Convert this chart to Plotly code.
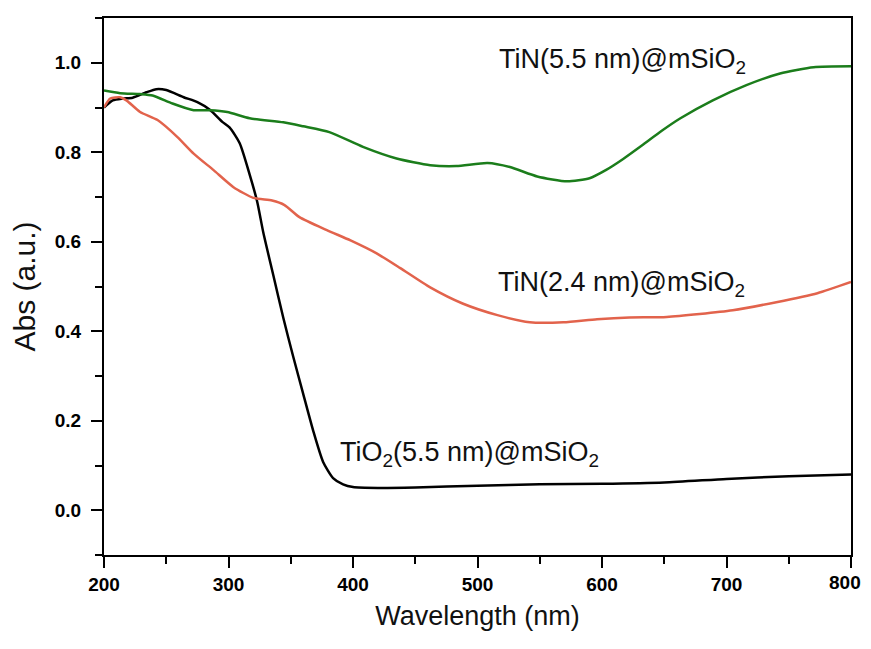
import plotly.graph_objects as go

# TiO2(5.5 nm)@mSiO2 (black)
tio2_x = [200, 207, 215, 223, 234, 242, 250, 264, 275, 285, 295, 301, 309, 317, 323, 328,
          336, 344, 352, 360, 368, 376, 384, 392, 400, 420, 450, 500, 550, 600, 650, 700, 750, 800]
tio2_y = [0.90, 0.916, 0.92, 0.922, 0.934, 0.941, 0.939, 0.923, 0.912, 0.895, 0.868, 0.855, 0.82,
          0.75, 0.69, 0.62, 0.525, 0.43, 0.343, 0.26, 0.178, 0.108, 0.072, 0.058, 0.052, 0.05,
          0.051, 0.055, 0.058, 0.059, 0.062, 0.07, 0.076, 0.08]

# TiN(5.5 nm)@mSiO2 (green)
tin55_x = [200, 213, 229, 239, 255, 272, 285, 299, 317, 344, 360, 381, 408, 435, 462, 483, 508,
           526, 548, 572, 590, 603, 617, 632, 648, 663, 689, 716, 743, 770, 800]
tin55_y = [0.938, 0.932, 0.93, 0.927, 0.909, 0.894, 0.894, 0.89, 0.876, 0.867, 0.858, 0.845, 0.812,
           0.786, 0.771, 0.769, 0.776, 0.767, 0.746, 0.735, 0.742, 0.76, 0.785, 0.815, 0.848, 0.876,
           0.916, 0.95, 0.976, 0.99, 0.992]

# TiN(2.4 nm)@mSiO2 (red)
tin24_x = [200, 205, 213, 218, 229, 243, 259, 272, 288, 304, 320, 335, 345, 357, 379, 398, 419, 438,
           462, 488, 516, 542, 569, 596, 622, 652, 705, 740, 773, 800]
tin24_y = [0.90, 0.92, 0.923, 0.916, 0.89, 0.872, 0.834, 0.797, 0.76, 0.722, 0.698, 0.692, 0.682,
           0.655, 0.626, 0.603, 0.574, 0.541, 0.498, 0.462, 0.436, 0.42, 0.42, 0.427, 0.431, 0.432,
           0.447, 0.465, 0.485, 0.51]

# x tick labels; the last one sits at the figure edge and is drawn as an annotation
x_tick_vals = [200, 300, 400, 500, 600, 700, 800]
x_tick_text = ["200", "300", "400", "500", "600", "700", "800"]

labels = ["TiO<sub>2</sub>(5.5 nm)@mSiO<sub>2</sub>",
          "TiN(5.5 nm)@mSiO<sub>2</sub>",
          "TiN(2.4 nm)@mSiO<sub>2</sub>"]
label_x = [388, 516, 515]
label_y = [0.125, 1.004, 0.505]

tick_font = dict(family="Arial, Liberation Sans", size=19, color="black", weight="bold")

fig = go.Figure()
fig.add_trace(go.Scatter(x=tio2_x, y=tio2_y, mode="lines", line=dict(color="#000000", width=2.5, shape="spline", smoothing=0.6)))
fig.add_trace(go.Scatter(x=tin55_x, y=tin55_y, mode="lines", line=dict(color="#1b7d1b", width=2.5, shape="spline", smoothing=0.6)))
fig.add_trace(go.Scatter(x=tin24_x, y=tin24_y, mode="lines", line=dict(color="#e2634c", width=2.5, shape="spline", smoothing=0.6)))

for t, x, y in zip(labels, label_x, label_y):
    fig.add_annotation(x=x, y=y, xref="x", yref="y", text=t, showarrow=False,
                       xanchor="left", yanchor="middle",
                       font=dict(family="Arial, Liberation Sans", size=27, color="#111111"))

# last x tick label, kept fully inside the figure
fig.add_annotation(x=x_tick_vals[-1], y=0, xref="x", yref="paper", text=x_tick_text[-1],
                   showarrow=False, xanchor="right", yanchor="top", xshift=12, yshift=-15,
                   font=tick_font)

axis_common = dict(showline=True, linecolor="black", linewidth=2, mirror=True,
                   ticks="outside", ticklen=11, tickwidth=2, tickcolor="black",
                   showgrid=False, zeroline=False, automargin=False, tickfont=tick_font)

fig.update_xaxes(range=[200, 800], tickvals=x_tick_vals,
                 ticktext=x_tick_text[:-1] + [""],
                 minor=dict(dtick=50, ticklen=7, tickwidth=2, tickcolor="black", ticks="outside"),
                 title=dict(text="Wavelength (nm)", standoff=12,
                            font=dict(family="Arial, Liberation Sans", size=27, color="#111111")),
                 **axis_common)
fig.update_yaxes(range=[-0.1, 1.1], dtick=0.2, tick0=0, tickformat=".1f", ticklabelstandoff=6,
                 minor=dict(dtick=0.1, ticklen=7, tickwidth=2, tickcolor="black", ticks="outside"),
                 title=dict(text="Abs (a.u.)", standoff=16,
                            font=dict(family="Arial, Liberation Sans", size=30, color="#111111")),
                 **axis_common)

# page body adds an 8px margin on every side, so the figure is sized to fit the window
fig.update_layout(width=855, height=633, showlegend=False,
                  plot_bgcolor="white", paper_bgcolor="white",
                  margin=dict(l=96, r=12, t=10, b=86))

fig.write_html("out.html")
